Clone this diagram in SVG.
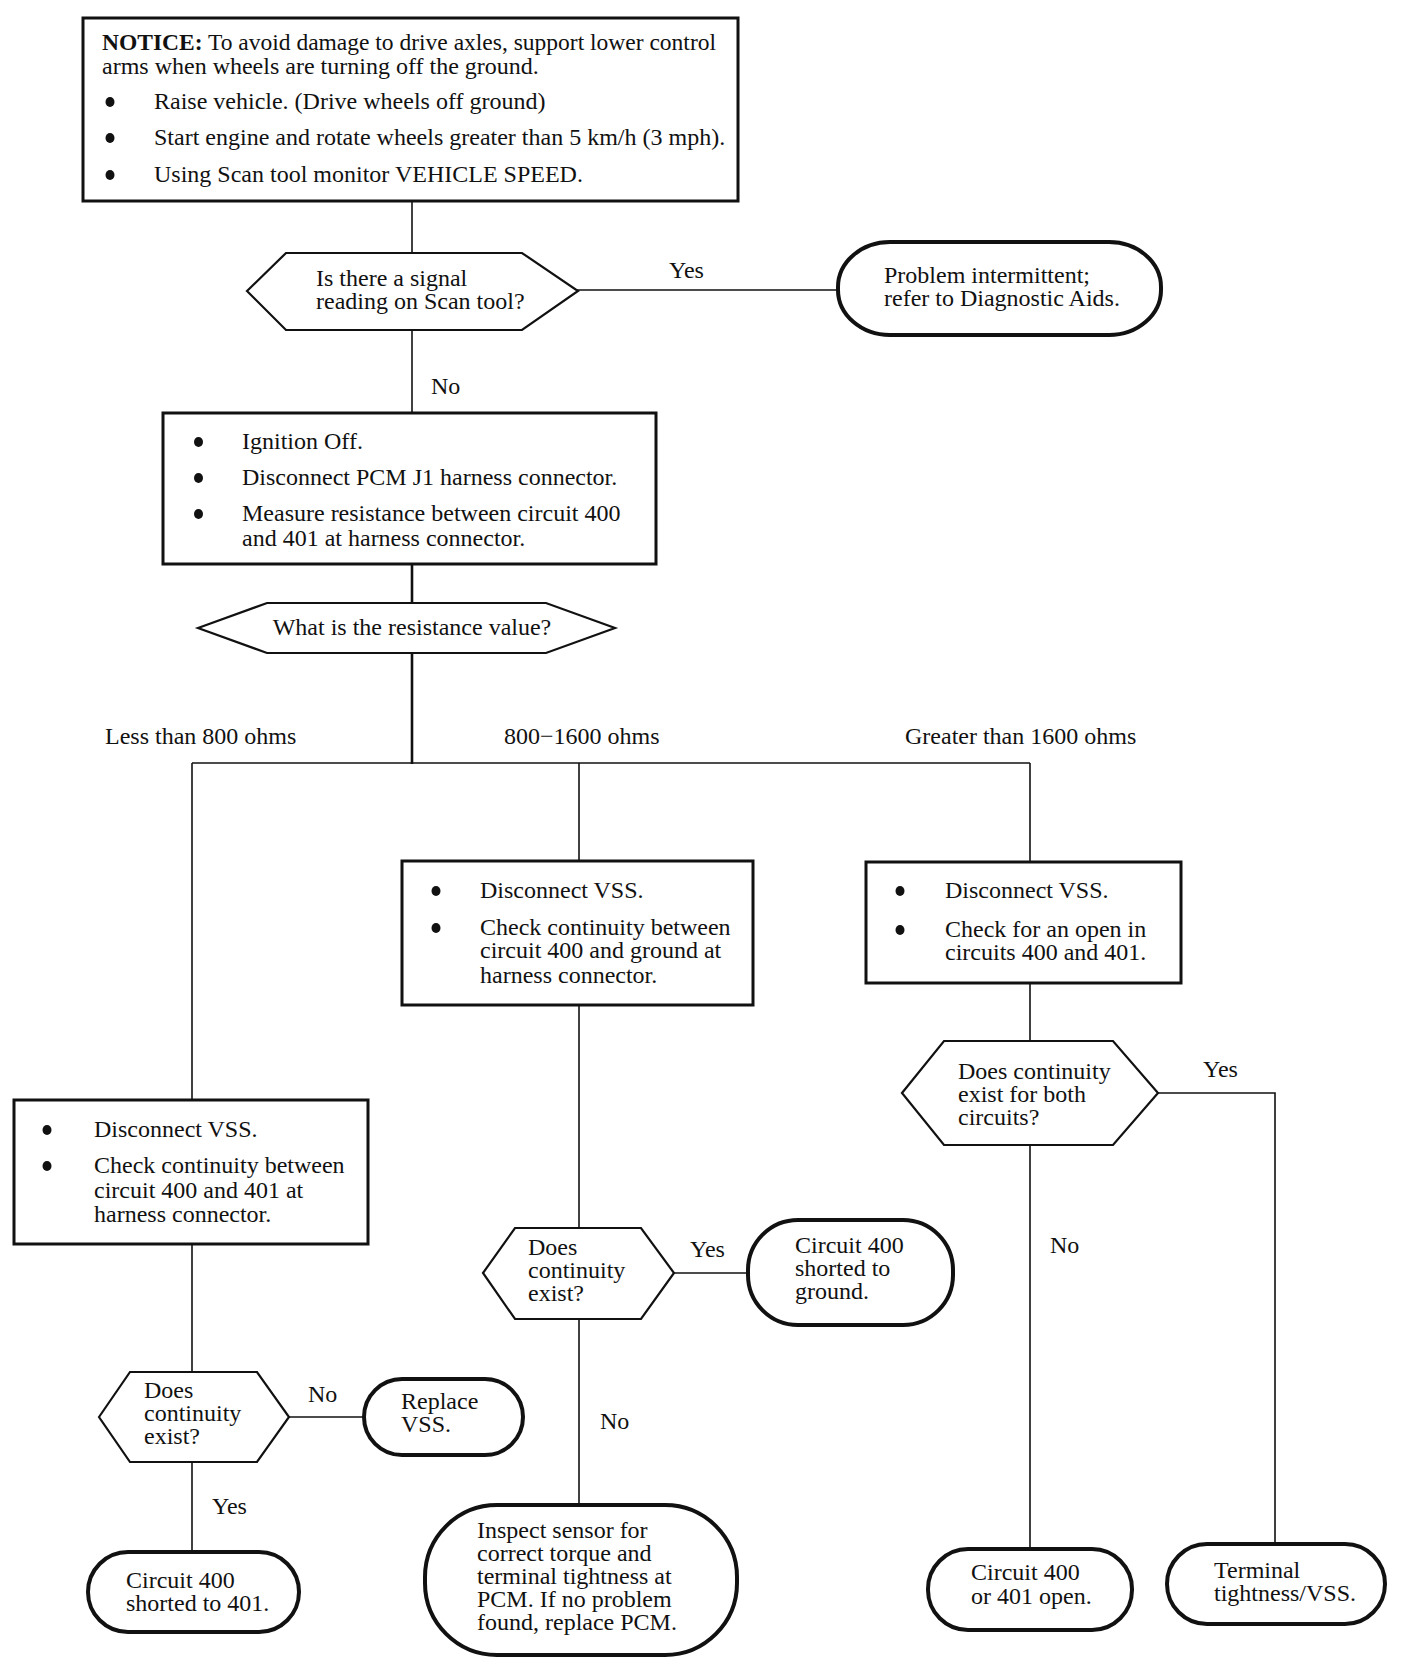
<svg xmlns="http://www.w3.org/2000/svg" width="1408" height="1678" viewBox="0 0 1408 1678">
<style>
text{font-family:"Liberation Serif","Times New Roman",serif;font-size:24px;fill:#111}
.box{fill:#fff;stroke:#111;stroke-width:3}
.hex{fill:#fff;stroke:#111;stroke-width:2.2;stroke-linejoin:miter}
.oval{fill:#fff;stroke:#111;stroke-width:4}
.ln{fill:none;stroke:#111;stroke-width:1.6}
.thick{stroke-width:2.6}
.dot{fill:#111}
</style>
<rect width="1408" height="1678" fill="#fff"/>
<g id="connectors">
<line class="ln" x1="412" y1="201" x2="412" y2="253"/>
<line class="ln" x1="577" y1="290" x2="838" y2="290"/>
<line class="ln" x1="412" y1="330" x2="412" y2="413"/>
<line class="ln thick" x1="412" y1="564" x2="412" y2="603"/>
<line class="ln thick" x1="412" y1="653" x2="412" y2="764"/>
<line class="ln" x1="192" y1="763" x2="1030" y2="763"/>
<line class="ln" x1="192" y1="763" x2="192" y2="1100"/>
<line class="ln" x1="579" y1="763" x2="579" y2="861"/>
<line class="ln" x1="1030" y1="763" x2="1030" y2="862"/>
<line class="ln" x1="192" y1="1244" x2="192" y2="1372"/>
<line class="ln" x1="289" y1="1417" x2="364" y2="1417"/>
<line class="ln" x1="192" y1="1462" x2="192" y2="1552"/>
<line class="ln" x1="579" y1="1005" x2="579" y2="1228"/>
<line class="ln" x1="674" y1="1273" x2="748" y2="1273"/>
<line class="ln" x1="579" y1="1319" x2="579" y2="1505"/>
<line class="ln" x1="1030" y1="983" x2="1030" y2="1041"/>
<polyline class="ln" points="1158,1093 1275,1093 1275,1544"/>
<line class="ln" x1="1030" y1="1145" x2="1030" y2="1549"/>
<text x="669" y="278">Yes</text>
<text x="431" y="394">No</text>
<text x="105" y="744">Less than 800 ohms</text>
<text x="504" y="744">800−1600 ohms</text>
<text x="905" y="744">Greater than 1600 ohms</text>
<text x="308" y="1402">No</text>
<text x="212" y="1514">Yes</text>
<text x="690" y="1257">Yes</text>
<text x="600" y="1429">No</text>
<text x="1203" y="1077">Yes</text>
<text x="1050" y="1253">No</text>
</g>
<g id="notice">
<rect class="box" x="83" y="18" width="655" height="183"/>
<text x="102" y="50" textLength="614" lengthAdjust="spacingAndGlyphs"><tspan font-weight="bold">NOTICE:</tspan> To avoid damage to drive axles, support lower control</text>
<text x="102" y="74">arms when wheels are turning off the ground.</text>
<ellipse class="dot" cx="110" cy="102" rx="4.5" ry="5"/>
<text x="154" y="109">Raise vehicle. (Drive wheels off ground)</text>
<ellipse class="dot" cx="110" cy="138" rx="4.5" ry="5"/>
<text x="154" y="145">Start engine and rotate wheels greater than 5 km/h (3 mph).</text>
<ellipse class="dot" cx="110" cy="175" rx="4.5" ry="5"/>
<text x="154" y="182">Using Scan tool monitor VEHICLE SPEED.</text>
</g>
<g id="q-signal">
<polygon class="hex" points="247,291 286,253 522,253 578,291 522,330 286,330"/>
<text x="316" y="286">Is there a signal</text>
<text x="316" y="309">reading on Scan tool?</text>
</g>
<g id="intermittent">
<rect class="oval" x="838" y="242" width="323" height="93" rx="52" ry="45"/>
<text x="884" y="283">Problem intermittent;</text>
<text x="884" y="306">refer to Diagnostic Aids.</text>
</g>
<g id="ignition">
<rect class="box" x="163" y="413" width="493" height="151"/>
<ellipse class="dot" cx="198.5" cy="442" rx="4.5" ry="5"/>
<text x="242" y="449">Ignition Off.</text>
<ellipse class="dot" cx="198.5" cy="478" rx="4.5" ry="5"/>
<text x="242" y="485">Disconnect PCM J1 harness connector.</text>
<ellipse class="dot" cx="198.5" cy="514" rx="4.5" ry="5"/>
<text x="242" y="521">Measure resistance between circuit 400</text>
<text x="242" y="546">and 401 at harness connector.</text>
</g>
<g id="q-resistance">
<polygon class="hex" points="198,628 267,603 546,603 615,628 546,653 267,653"/>
<text x="412" y="635" text-anchor="middle">What is the resistance value?</text>
</g>
<g id="box-left">
<rect class="box" x="14" y="1100" width="354" height="144"/>
<ellipse class="dot" cx="47" cy="1130" rx="4.5" ry="5"/>
<text x="94" y="1137">Disconnect VSS.</text>
<ellipse class="dot" cx="47" cy="1166" rx="4.5" ry="5"/>
<text x="94" y="1173">Check continuity between</text>
<text x="94" y="1198">circuit 400 and 401 at</text>
<text x="94" y="1222">harness connector.</text>
</g>
<g id="q-left">
<polygon class="hex" points="99,1417 130,1372 257,1372 289,1417 257,1462 130,1462"/>
<text x="144" y="1398">Does</text>
<text x="144" y="1421">continuity</text>
<text x="144" y="1444">exist?</text>
</g>
<g id="replace-vss">
<rect class="oval" x="364" y="1379" width="159" height="76" rx="38" ry="38"/>
<text x="401" y="1409">Replace</text>
<text x="401" y="1432">VSS.</text>
</g>
<g id="short-401">
<rect class="oval" x="88" y="1552" width="211" height="80" rx="40" ry="40"/>
<text x="126" y="1588">Circuit 400</text>
<text x="126" y="1611">shorted to 401.</text>
</g>
<g id="box-mid">
<rect class="box" x="402" y="861" width="351" height="144"/>
<ellipse class="dot" cx="436" cy="891" rx="4.5" ry="5"/>
<text x="480" y="898">Disconnect VSS.</text>
<ellipse class="dot" cx="436" cy="928" rx="4.5" ry="5"/>
<text x="480" y="935">Check continuity between</text>
<text x="480" y="958">circuit 400 and ground at</text>
<text x="480" y="983">harness connector.</text>
</g>
<g id="q-mid">
<polygon class="hex" points="483,1273 515,1228 641,1228 674,1273 641,1319 515,1319"/>
<text x="528" y="1255">Does</text>
<text x="528" y="1278">continuity</text>
<text x="528" y="1301">exist?</text>
</g>
<g id="short-ground">
<rect class="oval" x="748" y="1220" width="205" height="105" rx="50" ry="50"/>
<text x="795" y="1253">Circuit 400</text>
<text x="795" y="1276">shorted to</text>
<text x="795" y="1299">ground.</text>
</g>
<g id="inspect-pcm">
<rect class="oval" x="425" y="1505" width="312" height="150" rx="72" ry="72"/>
<text x="477" y="1538">Inspect sensor for</text>
<text x="477" y="1561">correct torque and</text>
<text x="477" y="1584">terminal tightness at</text>
<text x="477" y="1607">PCM. If no problem</text>
<text x="477" y="1630">found, replace PCM.</text>
</g>
<g id="box-right">
<rect class="box" x="866" y="862" width="315" height="121"/>
<ellipse class="dot" cx="900" cy="891" rx="4.5" ry="5"/>
<text x="945" y="898">Disconnect VSS.</text>
<ellipse class="dot" cx="900" cy="930" rx="4.5" ry="5"/>
<text x="945" y="937">Check for an open in</text>
<text x="945" y="960">circuits 400 and 401.</text>
</g>
<g id="q-right">
<polygon class="hex" points="902,1093 944,1041 1113,1041 1158,1093 1113,1145 944,1145"/>
<text x="958" y="1079">Does continuity</text>
<text x="958" y="1102">exist for both</text>
<text x="958" y="1125">circuits?</text>
</g>
<g id="open">
<rect class="oval" x="928" y="1549" width="204" height="81" rx="40" ry="40"/>
<text x="971" y="1580">Circuit 400</text>
<text x="971" y="1604">or 401 open.</text>
</g>
<g id="terminal">
<rect class="oval" x="1167" y="1544" width="218" height="80" rx="40" ry="40"/>
<text x="1214" y="1578">Terminal</text>
<text x="1214" y="1601">tightness/VSS.</text>
</g>
</svg>
